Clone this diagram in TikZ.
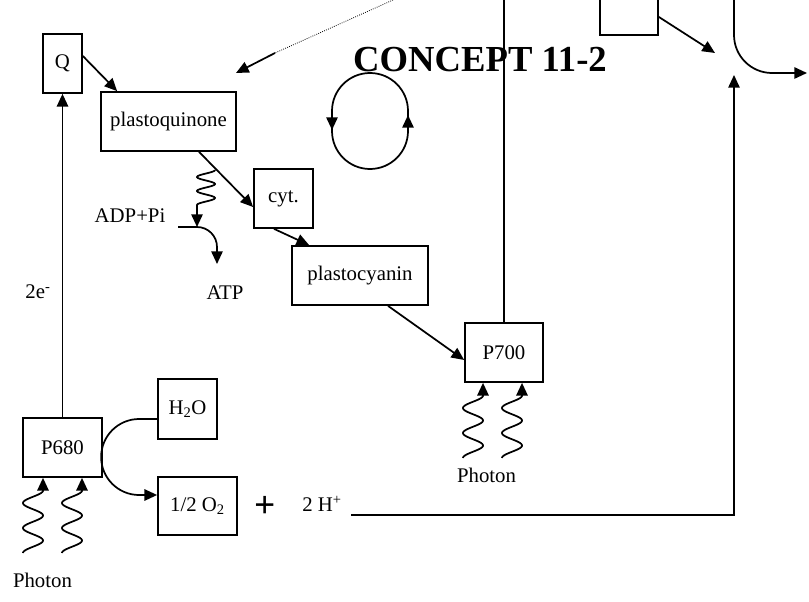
\documentclass[tikz,border=0pt]{standalone}
\usepackage{fontspec}
\setmainfont{Liberation Serif}
\usetikzlibrary{positioning, arrows.meta}
\tikzset{
  box/.style={draw, line width=1.3pt, minimum height=44.25pt, inner sep=0pt,
              font=\fontsize{15.6}{18}\selectfont},
  arr/.style={-{Triangle[length=9.5pt, width=8.5pt]}, line width=1.3pt},
  ln/.style={line width=1.3pt},
  lbl/.style={font=\fontsize{15.6}{18}\selectfont, inner sep=0pt},
  ttl/.style={font=\bfseries\fontsize{27.5}{30}\selectfont, inner sep=0pt},
}

\begin{document}
\begin{tikzpicture}[x=0.75pt, y=-0.75pt]
    \useasboundingbox (0,0) rectangle (809,602);
    \clip (0,0) rectangle (809,602);
    % carriers
    \node[box, minimum width=29.25pt]  (Q)    at (62.5,63.5)  {Q};
    \node[box, minimum width=101.25pt] (pq)   at (168.5,121.5) {plastoquinone};
    \node[box, minimum width=44.25pt]  (cyt)  at (283.5,198.5) {cyt.};
    \node[box, minimum width=102pt]    (pc)   at (360,275.5)  {plastocyanin};
    \node[box, minimum width=58.5pt]   (p700) at (504,352.5)  {P700};
    \node[box, minimum width=59.25pt]  (p680) at (62.5,447.5) {P680};
    \node[box, minimum width=44.25pt, minimum height=45pt] (h2o) at (187.5,409) {H\textsubscript{2}O};
    \node[box, minimum width=59.25pt, minimum height=43.5pt] (o2) at (197.5,506) {1/2 O\textsubscript{2}};
    \node[box, minimum width=43.5pt]   (tb)   at (629,5.5)    {};
    % labels
    \node[ttl, anchor=base] (title) at (480,72) {CONCEPT 11-2};
    \node[lbl, anchor=base] (adp)  at (130,223) {ADP+Pi};
    \node[lbl, anchor=base] (atp)  at (225,299) {ATP};
    \node[lbl, anchor=base] (el)   at (38,298)  {2e\textsuperscript{-}};
    \node[lbl, anchor=base] (ph1)  at (42.5,587) {Photon};
    \node[lbl, anchor=base] (ph2)  at (486.5,482) {Photon};
    \node[lbl, anchor=base west] (hp) at (302,511) {2 H\textsuperscript{+}};
    \node[font=\bfseries\fontsize{28}{30}\selectfont, inner sep=0pt] (plus) at (265,507) {+};
    \coordinate (fd)   at (393,0);
    \coordinate (fm)   at (275,53);
    \coordinate (ft)   at (236,73);
    \coordinate (adpl) at (178,227);
    \coordinate (hl)   at (351,515);
    \coordinate (jn)   at (734,75);
    \coordinate (jt)   at (715,53);
    \coordinate (rt)   at (734,-5);

    % linear flow
    \draw[arr] ([yshift=5.6pt]Q.east) -- ([xshift=12.75pt]pq.north west);
    \draw[densely dotted, line width=0.6pt] (fd) -- (fm);
    \draw[arr] (fm) -- (ft);
    \draw[arr] ([xshift=22.9pt]pq.south) -- ([yshift=-6.4pt]cyt.west);
    \draw[arr] ([xshift=-7.1pt]cyt.south) -- ([xshift=13.5pt]pc.north west);
    \draw[arr] ([xshift=21pt]pc.south) -- ([yshift=-5.6pt]p700.west);
    \draw[ln] (p700.north) -- (p700.north |- fd);
    \draw[arr] (p680.north) -- (Q.south);

    % water splitting
    \draw[arr] ([yshift=-7.5pt]h2o.west) -- ++(-18,0)
        arc[start angle=270, end angle=90, radius=38] -- ([yshift=8.25pt]o2.west);
    \draw[arr] (hl) -| (jn);

    % output at the top right
    \draw[arr] ([yshift=-8.6pt]tb.east) -- (jt);
    \draw[arr] (rt) -- (734,35) arc[start angle=180, end angle=90, radius=38] -- (807,73);

    % cyclic flow
    \draw[ln] (332,111) arc[start angle=180, end angle=360, radius=38] -- (408,131)
        arc[start angle=0, end angle=180, radius=38] -- cycle;
    \draw[arr] (332,117) -- (332,130);
    \draw[arr] (408,127) -- (408,115);

    % ATP synthesis
    \draw[arr] plot[domain=0:35, samples=80, smooth] ({206+9*cos(\x*25.714)}, {170+\x}) -- (197,0 |- adpl);
    \draw[arr] (adpl) -- ++(19,0) arc[start angle=270, end angle=360, radius=20] -- ++(0,17);

    % photons
    \foreach \c in {33,72}
      \draw[arr] plot[domain=0:62.5, samples=120, smooth] ({\c-10*cos(\x*14.4)}, {553-\x})
          -- (\c+10,0 |- p680.south);
    \foreach \c in {473,512}
      \draw[arr] plot[domain=0:62.5, samples=120, smooth] ({\c-10*cos(\x*14.4)}, {458-\x})
          -- (\c+10,0 |- p700.south);
\end{tikzpicture}
\end{document}
